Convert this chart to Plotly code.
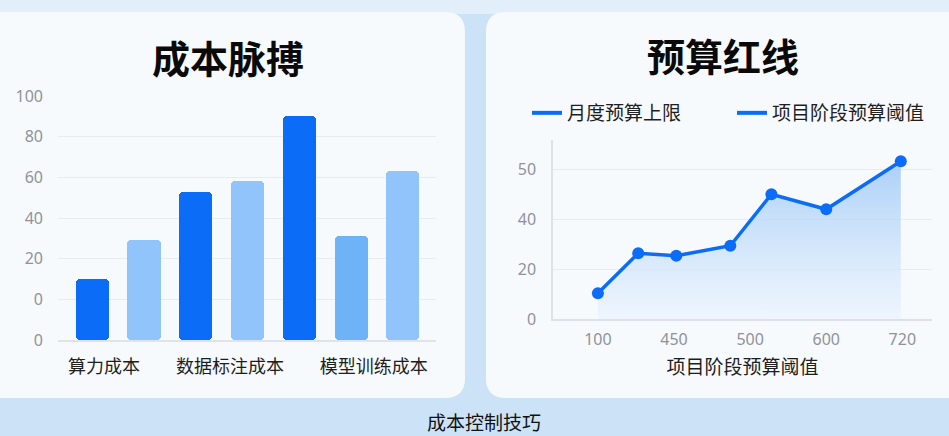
import plotly.graph_objects as go

W, H = 949, 436

# ---- data: left chart (成本脉搏) ----
bar_values = [10, 29, 53, 58, 90, 31, 63]
group_labels = ["算力成本", "数据标注成本", "模型训练成本"]
bar_ticks_left = ["0", "0", "20", "40", "60", "80", "100"]
bar_floor = -20  # axis value at the bars' baseline

# ---- data: right chart (预算红线) ----
stage_tick_labels = ["100", "450", "500", "600", "720"]
stage_x = [0, 0.53, 1.03, 1.74, 2.28, 3.0, 3.98]
budget_values = [10.3, 26.3, 25.3, 29.3, 49.9, 43.9, 63.1]
line_ticks_right = ["0", "20", "40", "50"]
legend_names = ["月度预算上限", "项目阶段预算阈值"]

DARK = "#0A6CF7"
LIGHT = "#90C4FA"
MID = "#6EB2F8"
bar_colors = [DARK, LIGHT, DARK, LIGHT, DARK, MID, LIGHT]

CJK = "Noto Sans CJK SC"
NUM = "Noto Sans, Noto Sans CJK SC"


def px_x(v):
    return v / W


def px_y(v):
    return 1 - v / H


def rounded_rect(x0, y0, x1, y1, r):
    X0, X1 = px_x(x0), px_x(x1)
    Y0, Y1 = px_y(y0), px_y(y1)  # Y0 top, Y1 bottom
    rx, ry = r / W, r / H
    return (f"M {X0+rx},{Y0} L {X1-rx},{Y0} Q {X1},{Y0} {X1},{Y0-ry} "
            f"L {X1},{Y1+ry} Q {X1},{Y1} {X1-rx},{Y1} L {X0+rx},{Y1} "
            f"Q {X0},{Y1} {X0},{Y1+ry} L {X0},{Y0-ry} Q {X0},{Y0} {X0+rx},{Y0} Z")


fig = go.Figure()

# left bars (drawn from the baseline floor up to each value)
fig.add_trace(go.Bar(
    x=list(range(len(bar_values))), y=[v - bar_floor for v in bar_values], base=bar_floor,
    width=0.64, marker=dict(color=bar_colors, cornerradius=4, line=dict(width=0)),
    showlegend=False, xaxis="x", yaxis="y", hoverinfo="skip",
))

# right line with gradient fill
fig.add_trace(go.Scatter(
    x=stage_x, y=budget_values, mode="lines+markers",
    line=dict(color=DARK, width=3.5), marker=dict(color=DARK, size=12),
    fill="tozeroy",
    fillgradient=dict(type="vertical", start=0, stop=65,
                      colorscale=[[0, "rgba(232,242,253,0.6)"], [1, "rgba(150,196,246,0.8)"]]),
    showlegend=False, xaxis="x2", yaxis="y2", hoverinfo="skip",
))

for nm in legend_names:
    fig.add_trace(go.Scatter(
        x=[None], y=[None], mode="lines", name=nm,
        line=dict(color=DARK, width=4), xaxis="x2", yaxis="y2",
    ))

shapes = [
    # soft lighter band at the top of the page background
    dict(type="rect", xref="paper", yref="paper", layer="below",
         x0=0, x1=1, y0=px_y(14), y1=1, fillcolor="#E2EEF9", line=dict(width=0)),
    dict(type="path", xref="paper", yref="paper", layer="below",
         path=rounded_rect(-30, 12, 465, 398, 20),
         fillcolor="#F7FAFD", line=dict(width=0)),
    dict(type="path", xref="paper", yref="paper", layer="below",
         path=rounded_rect(486, 12, 990, 398, 20),
         fillcolor="#F7FAFD", line=dict(width=0)),
]

annotations = [
    dict(text="<b>成本脉搏</b>", x=px_x(228), y=px_y(56), xref="paper", yref="paper",
         showarrow=False, xanchor="center", yanchor="middle",
         font=dict(family=CJK, size=38, color="#0A0A0A")),
    dict(text="<b>预算红线</b>", x=px_x(723), y=px_y(55), xref="paper", yref="paper",
         showarrow=False, xanchor="center", yanchor="middle",
         font=dict(family=CJK, size=38, color="#0A0A0A")),
    dict(text="成本控制技巧", x=px_x(484), y=px_y(421), xref="paper", yref="paper",
         showarrow=False, xanchor="center", yanchor="middle",
         font=dict(family=CJK, size=19, color="#111111")),
]

fig.update_layout(
    width=W, height=H,
    margin=dict(l=0, r=0, t=0, b=0, autoexpand=False),
    paper_bgcolor="#CCE2F7",
    plot_bgcolor="rgba(0,0,0,0)",
    shapes=shapes,
    annotations=annotations,
    bargap=0,
    xaxis=dict(
        domain=[px_x(58), px_x(436)], range=[-0.66, 6.64],
        tickmode="array", tickvals=[0.23, 2.66, 5.44], ticktext=group_labels,
        tickfont=dict(family=CJK, size=18, color="#1E1E1E"),
        showgrid=False, zeroline=False, showline=True, linecolor="#DFE4EA", linewidth=1.5,
        ticks="", ticklabelstandoff=10, fixedrange=True,
    ),
    yaxis=dict(
        domain=[px_y(340), px_y(96)], range=[-20, 100],
        tickmode="array", tickvals=[-20, 0, 20, 40, 60, 80, 100], ticktext=bar_ticks_left,
        tickfont=dict(family=NUM, size=16, color="#8E939B"),
        showgrid=True, gridcolor="#E8ECF1", gridwidth=1, zeroline=False,
        showline=False, ticks="", ticklabelstandoff=14, fixedrange=True,
    ),
    xaxis2=dict(
        domain=[px_x(553), px_x(932)], range=[-0.59, 4.39], anchor="y2",
        tickmode="array", tickvals=[0, 1, 2, 3, 4], ticktext=stage_tick_labels,
        tickfont=dict(family=NUM, size=16, color="#8E939B"),
        showgrid=False, zeroline=False, showline=True, linecolor="#DDE2E8", linewidth=1.5,
        ticks="", ticklabelstandoff=5,
        title=dict(text="项目阶段预算阈值", font=dict(family=CJK, size=19, color="#1E1E1E"), standoff=12),
        fixedrange=True,
    ),
    yaxis2=dict(
        domain=[px_y(319), px_y(140)], range=[0, 71.6], anchor="x2",
        tickmode="array", tickvals=[0, 20, 40, 60], ticktext=line_ticks_right,
        tickfont=dict(family=NUM, size=16, color="#8E939B"),
        showgrid=True, gridcolor="#E8ECF1", gridwidth=1, zeroline=False,
        showline=True, linecolor="#DDE2E8", linewidth=1.5, ticks="", ticklabelstandoff=12,
        fixedrange=True,
    ),
    legend=dict(
        orientation="h", x=px_x(527), y=px_y(113), xanchor="left", yanchor="middle",
        font=dict(family=CJK, size=19, color="#1E1E1E"),
        bgcolor="rgba(0,0,0,0)", entrywidth=160, entrywidthmode="pixels",
        itemclick=False, itemdoubleclick=False,
    ),
)

fig.write_html("out.html")
